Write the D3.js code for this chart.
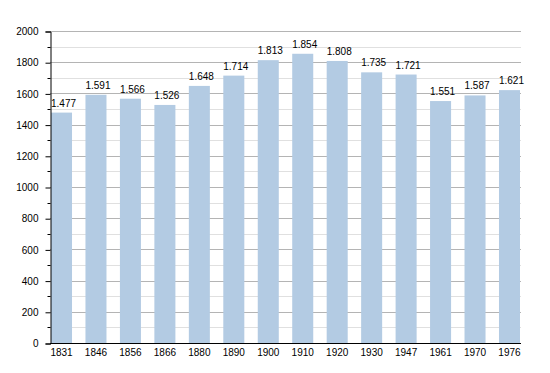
<!DOCTYPE html>
<meta charset="utf-8">
<head>
  <title>Population</title>
</head>

<style>
  body {
    margin: 0;
    background: #fff;
    font-family: "Liberation Sans", Arial, sans-serif;
  }
  text {
    font-size: 10px;
    fill: #000;
  }
</style>

<body>
<svg width="550" height="373">
  <g id="wrapper"></g>
</svg>

<script src="https://cdnjs.cloudflare.com/ajax/libs/d3/7.8.5/d3.min.js"></script>
<script>
  var years = ["1831", "1846", "1856", "1866", "1880", "1890", "1900", "1910", "1920", "1930", "1947", "1961", "1970", "1976"];
  var population = [1477, 1591, 1566, 1526, 1648, 1714, 1813, 1854, 1808, 1735, 1721, 1551, 1587, 1621];
  var yTicks = [0, 200, 400, 600, 800, 1000, 1200, 1400, 1600, 1800, 2000];
  var yMinorTicks = d3.range(100, 2000, 200);

  var plotLeft = 50, plotRight = 521, plotTop = 31, plotBottom = 343;

  var xScale = d3.scaleBand()
    .domain(years)
    .range([51, 520])
    .paddingInner(0.39)
    .paddingOuter(0);

  var yScale = d3.scaleLinear()
    .domain([0, 2000])
    .range([plotBottom, plotTop]);

  var fmt = function(d) {
    return d3.format(",")(d).replace(/,/g, ".");
  };

  var wrapper = d3.select('#wrapper');

  // minor grid lines
  wrapper.selectAll('line.minor')
    .data(yMinorTicks)
    .enter()
    .append('line')
    .attr('x1', plotLeft)
    .attr('x2', plotRight)
    .attr('y1', function(d) { return Math.round(yScale(d)) + 0.5; })
    .attr('y2', function(d) { return Math.round(yScale(d)) + 0.5; })
    .style('stroke', '#e0e0e0');

  // major grid lines
  wrapper.selectAll('line.major')
    .data(yTicks.slice(1))
    .enter()
    .append('line')
    .attr('x1', plotLeft)
    .attr('x2', plotRight)
    .attr('y1', function(d) { return Math.round(yScale(d)) + 0.5; })
    .attr('y2', function(d) { return Math.round(yScale(d)) + 0.5; })
    .style('stroke', '#b4b4b4');

  wrapper.selectAll('rect')
    .data(population)
    .enter()
    .append('rect')
    .attr('x', function(d, i) { return xScale(years[i]); })
    .attr('width', xScale.bandwidth())
    .attr('y', function(d) { return yScale(d); })
    .attr('height', function(d) { return plotBottom - yScale(d); })
    .style('fill', '#b3cbe3');

  wrapper.selectAll('text.val')
    .data(population)
    .enter()
    .append('text')
    .attr('class', 'val')
    .attr('x', function(d, i) { return xScale(years[i]) + xScale.bandwidth() / 2 + 2; })
    .attr('y', function(d) { return yScale(d) - 6; })
    .attr('text-anchor', 'middle')
    .text(fmt);

  // y axis
  var yAxis = d3.axisLeft(yScale)
    .tickValues(yTicks)
    .tickFormat(d3.format("d"))
    .tickSize(5)
    .tickPadding(7);

  var yg = wrapper.append('g')
    .attr('transform', 'translate(' + (plotLeft + 0.5) + ',0.5)')
    .call(yAxis);
  yg.select('.domain').attr('stroke', '#000');
  yg.selectAll('text').style('font-size', '10px').attr('font-family', null);

  yg.selectAll('line.mt')
    .data(yMinorTicks)
    .enter()
    .append('line')
    .attr('x1', -3)
    .attr('x2', 0)
    .attr('y1', function(d) { return Math.round(yScale(d)); })
    .attr('y2', function(d) { return Math.round(yScale(d)); })
    .style('stroke', '#000');

  // x axis
  var xAxis = d3.axisBottom(xScale)
    .tickSize(0)
    .tickPadding(5);

  var xg = wrapper.append('g')
    .attr('transform', 'translate(0,' + (plotBottom + 0.5) + ')')
    .call(xAxis);
  xg.select('.domain').attr('d', 'M' + plotLeft + ',0H' + plotRight).attr('stroke', '#000');
  xg.selectAll('text').style('font-size', '10px').attr('font-family', null);

</script>
</body>
</html>
